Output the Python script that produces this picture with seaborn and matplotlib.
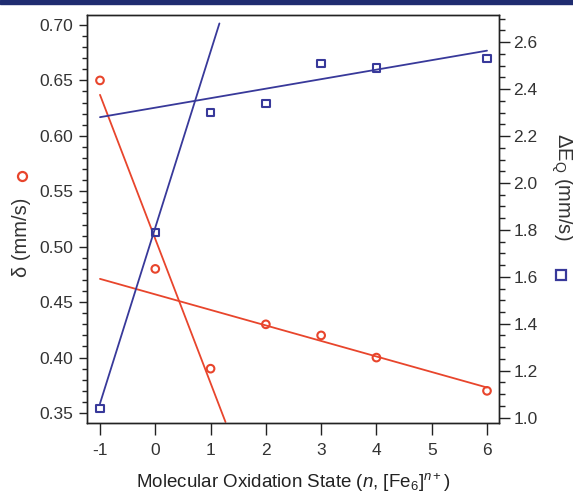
import matplotlib
matplotlib.use("Agg")
import numpy as np
import pandas as pd
import seaborn as sns
import matplotlib.pyplot as plt
from matplotlib.patches import Rectangle
from matplotlib.ticker import MultipleLocator, FormatStrFormatter

# ---- data ----
n_state = [-1, 0, 1, 2, 3, 4, 6]
delta = [0.65, 0.48, 0.39, 0.43, 0.42, 0.40, 0.37]          # mm/s, left axis
dEq = [1.04, 1.79, 2.30, 2.34, 2.51, 2.49, 2.53]            # mm/s, right axis

# linear fit lines (slope, intercept, x-range)
red_steep = dict(slope=-0.13, intercept=0.507, x0=-1.0, x1=1.27)
red_flat = dict(slope=-0.014, intercept=0.457, x0=-1.0, x1=6.0)
blue_steep = dict(slope=0.75, intercept=1.81, x0=-1.0, x1=1.16)
blue_flat = dict(slope=0.0405, intercept=2.321, x0=-1.0, x1=6.0)

x_ticks = [-1, 0, 1, 2, 3, 4, 5, 6]

RED = "#e8452c"
BLUE = "#38399a"

sns.set_theme(style="ticks")
plt.rcParams["font.family"] = ["Liberation Sans", "DejaVu Sans"]
plt.rcParams["mathtext.fontset"] = "custom"
plt.rcParams["mathtext.rm"] = "Liberation Sans"
plt.rcParams["mathtext.it"] = "Liberation Sans:italic"
plt.rcParams["axes.unicode_minus"] = False

fig = plt.figure(figsize=(5.73, 4.96), dpi=100)
ax = fig.add_axes([87 / 573, 1 - 423 / 496, 412 / 573, 408 / 496])
ax2 = ax.twinx()

def fit_df(p):
    xs = np.array([p["x0"], p["x1"]])
    return pd.DataFrame({"x": xs, "y": p["slope"] * xs + p["intercept"]})

for p in (red_steep, red_flat):
    sns.lineplot(data=fit_df(p), x="x", y="y", ax=ax, color=RED, lw=1.3)
for p in (blue_steep, blue_flat):
    sns.lineplot(data=fit_df(p), x="x", y="y", ax=ax2, color=BLUE, lw=1.3)

df = pd.DataFrame({"n": n_state, "delta": delta, "dEq": dEq})
sns.scatterplot(data=df, x="n", y="delta", ax=ax, marker="o", s=30,
                facecolors="none", edgecolors=RED, linewidths=1.5, zorder=5)
sns.scatterplot(data=df, x="n", y="dEq", ax=ax2, marker="s", s=28,
                facecolors="none", edgecolors=BLUE, linewidths=1.5, zorder=5)

ax.set_xlim(-1.235, 6.217)
ax.set_ylim(0.341, 0.709)
ax2.set_ylim(0.977, 2.716)

ax.set_xticks(x_ticks)
ax.set_xticklabels([str(v) for v in x_ticks])
ax.yaxis.set_major_locator(MultipleLocator(0.05))
ax.yaxis.set_minor_locator(MultipleLocator(0.01))
ax.yaxis.set_major_formatter(FormatStrFormatter("%.2f"))
ax2.yaxis.set_major_locator(MultipleLocator(0.2))
ax2.yaxis.set_minor_locator(MultipleLocator(0.05))
ax2.yaxis.set_major_formatter(FormatStrFormatter("%.1f"))

TC = "#222222"
LC = "#333333"
ax.tick_params(axis="x", which="major", direction="out", length=8.5, width=1,
               color=TC, labelsize=12.5, labelcolor=LC, pad=6)
ax.tick_params(axis="y", which="major", direction="out", length=5.8, width=1,
               color=TC, labelsize=12.5, labelcolor=LC, pad=4)
ax.tick_params(axis="y", which="minor", direction="out", length=3.4, width=1,
               color=TC)
ax2.tick_params(axis="y", which="major", direction="out", length=8, width=1,
                color=TC, labelsize=12.5, labelcolor=LC, pad=2.5)
ax2.tick_params(axis="y", which="minor", direction="out", length=4.3, width=1,
                color=TC)
for a in (ax, ax2):
    for s in a.spines.values():
        s.set_visible(True)
        s.set_color(TC)
        s.set_linewidth(1.0)

ax.set_xlabel("Molecular Oxidation State ($n$, [Fe$_6$]$^{n+}$)",
              fontsize=13.5, color=TC)
ax.xaxis.set_label_coords(0.5, -0.118)
ax.set_ylabel("δ (mm/s)", fontsize=14.5, color=LC, va="center")
ax.yaxis.set_label_coords(-0.158, 0.456)
ax2.set_ylabel("ΔE$_\\mathregular{Q}$ (mm/s)", fontsize=14.5, color=LC,
               rotation=270, va="center")
ax2.yaxis.set_label_coords(1.152, 0.580)

# legend-like glyphs attached to the axis titles
ax.plot([-0.158], [0.605], marker="o", ms=6.5, mfc="none", mec=RED, mew=1.6,
        transform=ax.transAxes, clip_on=False)
ax2.plot([1.150], [0.363], marker="s", ms=6.5, mfc="none", mec=BLUE, mew=1.6,
         transform=ax2.transAxes, clip_on=False)

fig.patches.append(Rectangle((0, 1 - 4 / 496), 1, 4 / 496,
                             transform=fig.transFigure, color="#1f2c70"))

fig.savefig("out.png", dpi=100)
